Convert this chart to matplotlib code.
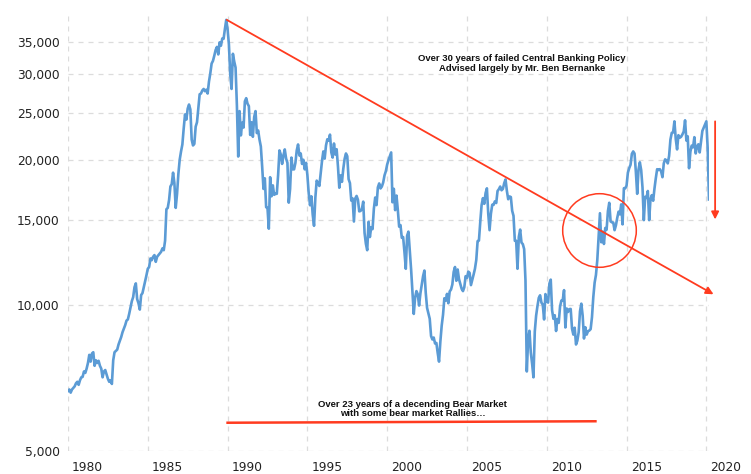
import numpy as np
import matplotlib.pyplot as plt
from matplotlib.ticker import FixedLocator, FuncFormatter, NullLocator
from matplotlib.transforms import ScaledTranslation

# monthly Nikkei 225 level, Jan 1980 .. Mar 2020
start_year = 1980
nikkei = [
    # 1980
    6650, 6700, 6600, 6700, 6750, 6800, 6900, 6950, 6850, 7000, 7100, 7116,
    # 1981
    7300, 7250, 7400, 7600, 7900, 7650, 7950, 8000, 7500, 7700, 7600, 7680,
    # 1982
    7500, 7400, 7100, 7300, 7350, 7200, 7050, 6950, 7000, 6880, 7700, 8000,
    # 1983
    8050, 8100, 8300, 8450, 8600, 8800, 8950, 9100, 9300, 9350, 9600, 9890,
    # 1984
    10200, 10400, 10900, 11100, 10300, 10100, 9800, 10500, 10600, 10900, 11200, 11540,
    # 1985
    11900, 12000, 12500, 12400, 12600, 12700, 12300, 12600, 12700, 12800, 12900, 13110,
    # 1986
    13000, 13600, 15800, 15900, 16500, 17600, 17800, 18800, 17900, 15900, 17000, 18700,
    # 1987
    20000, 20800, 21500, 23200, 24800, 24200, 25500, 26000, 25400, 22000, 21400, 21560,
    # 1988
    23400, 23900, 25600, 27300, 27400, 27800, 28000, 27700, 27900, 27400, 29000, 30160,
    # 1989
    31600, 32000, 32800, 33700, 34200, 33000, 34950, 34400, 35600, 35550, 37270, 38900,
    # 1990
    37200, 34600, 29980, 28000, 33100, 31900, 31000, 25900, 20300, 25200, 22450, 23850,
    # 1991
    23300, 26400, 26800, 26100, 25800, 22500, 23900, 22300, 24500, 25200, 22700, 22980,
    # 1992
    22000, 21300, 19350, 17400, 18300, 15950, 15900, 14400, 18400, 16800, 17700, 16920,
    # 1993
    17000, 17000, 18600, 20900, 20500, 19600, 20400, 21000, 20100, 19700, 16300, 17400,
    # 1994
    20200, 19100, 19100, 19700, 20900, 21500, 20400, 20600, 19600, 19990, 19100, 19700,
    # 1995
    18600, 17050, 16100, 16800, 15400, 14600, 16700, 18100, 17900, 17650, 18740, 19870,
    # 1996
    20800, 20100, 21400, 22040, 21900, 22530, 20700, 20200, 21600, 20500, 21020, 19360,
    # 1997
    17500, 18560, 18000, 19150, 20070, 20600, 20330, 18230, 17890, 16460, 16630, 14900,
    # 1998
    16630, 16830, 16530, 15640, 15670, 15830, 16380, 14110, 13400, 13000, 14880, 13840,
    # 1999
    14500, 14370, 15840, 16700, 16110, 17530, 17860, 17440, 17600, 17940, 18560, 18930,
    # 2000
    19540, 19960, 20340, 20700, 16330, 17410, 15730, 16860, 15750, 14540, 14650, 13790,
    # 2001
    13840, 12880, 11900, 13930, 14200, 12970, 11860, 10710, 9600, 10370, 10700, 10540,
    # 2002
    9990, 10590, 11020, 11490, 11800, 10620, 9880, 9620, 9380, 8640, 8500, 8580,
    # 2003
    8340, 8360, 7970, 7650, 8420, 9080, 9560, 10340, 10220, 10560, 10100, 10680,
    # 2004
    10780, 11040, 11720, 12000, 11240, 11860, 11330, 11080, 10820, 10700, 10900, 11490,
    # 2005
    11390, 11740, 11670, 11010, 11280, 11580, 11900, 12410, 13570, 13610, 14870, 16110,
    # 2006
    16650, 16210, 17060, 17450, 15470, 14300, 15460, 16140, 16130, 16400, 16270, 17230,
    # 2007
    17380, 17600, 17290, 17400, 17880, 18200, 17250, 16570, 16790, 16740, 15680, 15310,
    # 2008
    13590, 13600, 11900, 13850, 14340, 13480, 13380, 13070, 11260, 7300, 8510, 8860,
    # 2009
    7990, 7570, 7100, 8830, 9520, 9960, 10360, 10490, 10130, 10030, 9350, 10550,
    # 2010
    10200, 10130, 11090, 11300, 9770, 9380, 9540, 8850, 9370, 9200, 9940, 10230,
    # 2011
    10240, 10750, 9000, 9850, 9690, 9820, 9830, 8950, 8700, 8990, 8300, 8450,
    # 2012
    8800, 9720, 10080, 9520, 8540, 9010, 8700, 8840, 8870, 8930, 9450, 10400,
    # 2013
    11140, 11560, 12400, 13860, 15500, 13500, 14200, 13390, 14450, 14330, 15660, 16290,
    # 2014
    14910, 14840, 14830, 14300, 14630, 15160, 15620, 15420, 16170, 14700, 17460, 17450,
    # 2015
    17670, 18800, 19210, 19520, 20560, 20800, 20590, 18890, 17000, 19080, 19750, 19030,
    # 2016
    17520, 15000, 16760, 16670, 17230, 15000, 16570, 16890, 16450, 17430, 18310, 19110,
    # 2017
    19040, 19120, 18910, 18400, 19650, 20030, 19930, 19650, 20360, 22010, 22720, 22760,
    # 2018
    24000, 22070, 21000, 22470, 22200, 22300, 22550, 22870, 24120, 21900, 22350, 19200,
    # 2019
    20770, 21390, 21210, 22260, 20600, 21280, 21520, 20700, 21760, 22930, 23290, 23660,
    # 2020
    24000, 21140, 16550,
]

year_ticks = [1980, 1985, 1990, 1995, 2000, 2005, 2010, 2015, 2020]
value_ticks = [5000, 10000, 15000, 20000, 25000, 30000, 35000]

note_top = "Over 30 years of failed Central Banking Policy\nAdvised largely by Mr. Ben Bernanke"
note_bottom = "Over 23 years of a decending Bear Market\nwith some bear market Rallies\u2026"

blue = "#5b9bd5"
red = "#ff3b1f"

years = start_year + np.arange(len(nikkei)) / 12.0

fig = plt.figure(figsize=(7.51, 4.74), dpi=100)
ax = fig.add_axes([68 / 751, 1 - 451 / 474, (709 - 68) / 751, (451 - 14) / 474])

ax.plot(years, nikkei, color=blue, lw=1.9, zorder=2)

ax.set_yscale("log")
ax.set_ylim(5000, 40000)
ax.set_xlim(1980, years[-1])

ax.yaxis.set_major_locator(FixedLocator(value_ticks))
ax.yaxis.set_minor_locator(NullLocator())
ax.yaxis.set_major_formatter(FuncFormatter(lambda v, _: f"{v:,.0f}"))
ax.xaxis.set_major_locator(FixedLocator(year_ticks))
ax.xaxis.set_major_formatter(FuncFormatter(lambda v, _: f"{v:.0f}"))

ax.tick_params(length=0, labelsize=8.8, labelcolor="#222222")
ax.tick_params(axis="y", pad=6)
ax.tick_params(axis="x", pad=7)
shift = ScaledTranslation(3 / 72, 0, fig.dpi_scale_trans)
for lab in ax.get_xticklabels():
    lab.set_horizontalalignment("left")
    lab.set_transform(lab.get_transform() + shift)

for s in ax.spines.values():
    s.set_visible(False)
ax.grid(True, color="#dcdcdc", ls=(0, (4, 4)), lw=0.9)
ax.set_axisbelow(True)

# annotations
ax.annotate("", xy=(2020.45, 10540), xytext=(1989.95, 38900),
            arrowprops=dict(arrowstyle="-|>", color=red, lw=1.3,
                            mutation_scale=11, shrinkA=0, shrinkB=0),
            annotation_clip=False, zorder=3)
ax.annotate("", xy=(2020.55, 15050), xytext=(2020.55, 24000),
            arrowprops=dict(arrowstyle="-|>", color=red, lw=1.3,
                            mutation_scale=11, shrinkA=0, shrinkB=0),
            annotation_clip=False, zorder=3)
ax.plot([1990.0, 2013.05], [5720, 5760], color=red, lw=1.8, zorder=3)
ax.plot([2013.3], [14280], marker="o", ms=53, mfc="none", mec=red, mew=1.1, zorder=3)

ax.text(2008.45, 31600, note_top, ha="center", va="center", fontsize=6.8,
        fontweight="bold", family="Liberation Sans", linespacing=1.05, color="#111111")
ax.text(2001.6, 6100, note_bottom, ha="center", va="center", fontsize=6.8,
        fontweight="bold", family="Liberation Sans", linespacing=1.05, color="#111111")

fig.savefig("out.png", dpi=100)
